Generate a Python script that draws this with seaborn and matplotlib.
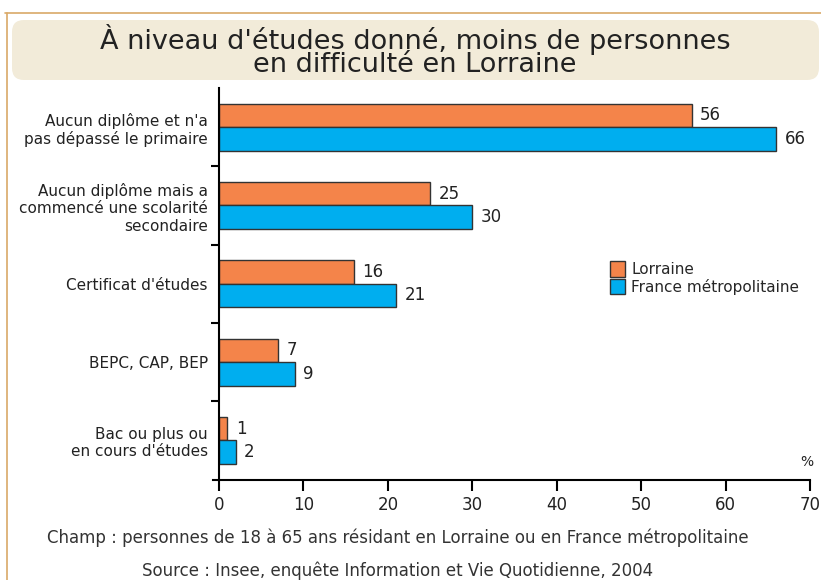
import matplotlib
matplotlib.use("Agg")
import matplotlib.pyplot as plt
import seaborn as sns
import pandas as pd
from matplotlib.patches import FancyBboxPatch, Patch
from matplotlib.lines import Line2D
from matplotlib.transforms import IdentityTransform

# Données
categories = [
    "Aucun diplôme et n'a\npas dépassé le primaire",
    "Aucun diplôme mais a\ncommencé une scolarité\nsecondaire",
    "Certificat d'études",
    "BEPC, CAP, BEP",
    "Bac ou plus ou\nen cours d'études",
]
lorraine = [56, 25, 16, 7, 1]
france = [66, 30, 21, 9, 2]
series = ["Lorraine", "France métropolitaine"]
x_ticks = [0, 10, 20, 30, 40, 50, 60, 70]

orange = "#F4844A"
bleu = "#00AEEF"

df = pd.DataFrame({
    "niveau": categories * 2,
    "valeur": lorraine + france,
    "zone": [series[0]] * len(categories) + [series[1]] * len(categories),
})

sns.set_theme(style="white")
plt.rcParams["font.family"] = ["DejaVu Sans"]

fig = plt.figure(figsize=(8.21, 5.80), dpi=100)
ax = fig.add_axes([219 / 821, 100.5 / 580, 591 / 821, 391.5 / 580])

sns.barplot(
    data=df, y="niveau", x="valeur", hue="zone", hue_order=series,
    order=categories, palette=[orange, bleu], width=0.6, orient="h",
    edgecolor="#333333", linewidth=1, saturation=1, legend=False, ax=ax,
)

for cont in ax.containers:
    ax.bar_label(cont, padding=6, fontsize=12, color="#222222")

ax.set_xlim(0, 70)
ax.set_ylim(4.5, -0.5)
ax.set_xticks(x_ticks)
ax.set_xlabel("")
ax.set_ylabel("")

for s in ["top", "right"]:
    ax.spines[s].set_visible(False)
for s in ["left", "bottom"]:
    ax.spines[s].set_color("black")
    ax.spines[s].set_linewidth(1.5)
ax.spines["bottom"].set_bounds(-0.7, 70)

ax.tick_params(axis="x", which="major", direction="out", length=8, width=1.5,
               color="black", labelsize=12, pad=4, labelcolor="#222222", bottom=True)
ax.tick_params(axis="y", which="major", length=0, pad=8, labelsize=11, labelcolor="#222222")
ax.set_yticks([0.5, 1.5, 2.5, 3.5], minor=True)
ax.tick_params(axis="y", which="minor", direction="out", length=6, width=1.5,
               color="black", left=True)

ax.text(0.995, 0.045, "%", transform=ax.transAxes, ha="center", va="center",
        fontsize=10, color="#222222")

# Légende
handles = [Patch(facecolor=orange, edgecolor="#333333", label=series[0]),
           Patch(facecolor=bleu, edgecolor="#333333", label=series[1])]
fig.legend(handles=handles, loc="upper left", bbox_to_anchor=(610 / 821, 1 - 261 / 580),
           frameon=False, fontsize=11, handlelength=1.0, handleheight=1.2,
           handletextpad=0.4, borderpad=0, labelspacing=0.1, borderaxespad=0)

# Cadre et titre
fig.add_artist(Line2D([5 / 821, 1], [1 - 13 / 580] * 2, transform=fig.transFigure,
                      color="#D9A968", linewidth=1.2))
fig.add_artist(Line2D([7 / 821] * 2, [0, 1 - 13 / 580], transform=fig.transFigure,
                      color="#D9A968", linewidth=1.2))
fig.add_artist(FancyBboxPatch((12, 500), 807, 60, boxstyle="round,pad=0,rounding_size=12",
                              transform=IdentityTransform(), facecolor="#F2EBD9",
                              edgecolor="none"))
fig.text(415 / 821, 1 - 51 / 580,
         "À niveau d'études donné, moins de personnes\nen difficulté en Lorraine",
         ha="center", va="center", fontsize=19.5, linespacing=0.82, color="#222222")

# Notes
fig.text(398 / 821, 1 - 538 / 580,
         "Champ : personnes de 18 à 65 ans résidant en Lorraine ou en France métropolitaine",
         ha="center", va="center", fontsize=12, color="#333333")
fig.text(398 / 821, 1 - 571 / 580,
         "Source : Insee, enquête Information et Vie Quotidienne, 2004",
         ha="center", va="center", fontsize=12, color="#333333")

fig.savefig("out.png", dpi=100)
